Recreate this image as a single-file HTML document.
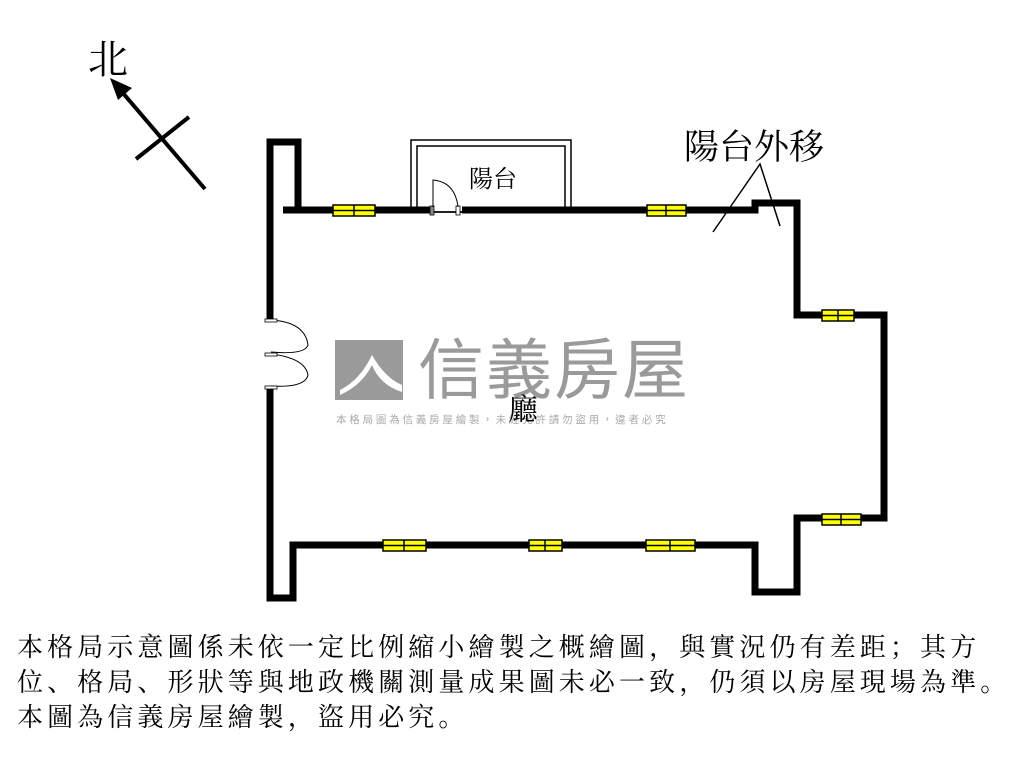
<!DOCTYPE html>
<html><head><meta charset="utf-8"><style>
body{margin:0;background:#fff;width:1024px;height:768px;overflow:hidden;position:relative;font-family:"Liberation Serif","Noto Serif CJK SC",serif}
.t{position:absolute;white-space:nowrap;color:#000}
</style></head><body>
<svg width="1024" height="768" style="position:absolute;left:0;top:0">
<rect x="335" y="340" width="68" height="60" fill="#9a9a9a"/>
<path d="M340 390 Q360 380 372 355 Q385 378 402 385 L402 392 Q380 385 372 365 Q362 385 340 395Z" fill="#fff"/>
<text x="418" y="393" font-size="66" fill="#9a9a9a" font-family="Noto Sans CJK TC,sans-serif" letter-spacing="2">信義房屋</text>
<text x="336" y="423" font-size="10.5" fill="#aaa" font-family="Noto Sans CJK TC,sans-serif" letter-spacing="2.8">本格局圖為信義房屋繪製，未經允許請勿盜用，違者必究</text>
<rect x="411" y="140" width="160" height="72" fill="none" stroke="#000" stroke-width="1.5"/>
<rect x="417" y="146" width="148" height="66" fill="none" stroke="#000" stroke-width="1.5"/>
<g fill="none" stroke="#000" stroke-width="7" stroke-linejoin="miter">
<polyline points="283,210 298,210 298,142 270,142 270,320"/>
<polyline points="270,386 270,598 293,598 293,545 755,545 755,592 797,592 797,518 884,518 884,315 797,315 797,203 755,203 755,210 462,210"/>
<line x1="283" y1="210" x2="432" y2="210"/>
</g>
<rect x="430" y="206" width="4" height="9" fill="#888" stroke="#000" stroke-width="0.8"/>
<rect x="456" y="206" width="4" height="9" fill="#fff" stroke="#000" stroke-width="0.8"/>
<path d="M433 207 L433 180 Q455 182 458 207" fill="none" stroke="#000" stroke-width="1"/>
<path d="M271 320 Q305 322 308 345 Q305 355 271 352 M271 354 Q305 358 308 375 Q305 388 271 386" fill="none" stroke="#000" stroke-width="1"/>
<rect x="265" y="319" width="12" height="3" fill="#fff" stroke="#000" stroke-width="0.8"/>
<rect x="265" y="353" width="12" height="3" fill="#fff" stroke="#000" stroke-width="0.8"/>
<rect x="265" y="386" width="12" height="3" fill="#fff" stroke="#000" stroke-width="0.8"/>
<g fill="#ffff00" stroke="#000" stroke-width="1.5">
<rect x="333" y="205" width="42" height="11"/><line x1="354" y1="205" x2="354" y2="216"/><line x1="333" y1="210.5" x2="375" y2="210.5"/>
<rect x="647" y="205" width="39" height="11"/><line x1="666" y1="205" x2="666" y2="216"/><line x1="647" y1="210.5" x2="686" y2="210.5"/>
<rect x="822" y="310" width="32" height="11"/><line x1="838" y1="310" x2="838" y2="321"/><line x1="822" y1="315.5" x2="854" y2="315.5"/>
<rect x="822" y="514" width="39" height="11"/><line x1="841" y1="514" x2="841" y2="525"/><line x1="822" y1="519.5" x2="861" y2="519.5"/>
<rect x="383" y="540" width="43" height="11"/><line x1="404" y1="540" x2="404" y2="551"/><line x1="383" y1="545.5" x2="426" y2="545.5"/>
<rect x="529" y="540" width="33" height="11"/><line x1="545" y1="540" x2="545" y2="551"/><line x1="529" y1="545.5" x2="562" y2="545.5"/>
<rect x="646" y="540" width="49" height="11"/><line x1="670" y1="540" x2="670" y2="551"/><line x1="646" y1="545.5" x2="695" y2="545.5"/>
</g>
<polyline points="713,232 760,164 780,226" fill="none" stroke="#000" stroke-width="1.5"/>
<line x1="205" y1="189" x2="122" y2="92" stroke="#000" stroke-width="4"/>
<polygon points="110,78 132,88 118,100" fill="#000"/>
<line x1="136" y1="159" x2="189" y2="117" stroke="#000" stroke-width="4"/>
</svg>
<div class="t" style="left:88px;top:28px;font-size:40px">北</div>
<div class="t" style="left:469px;top:159px;font-size:24px">陽台</div>
<div class="t" style="left:684px;top:120px;font-size:35px">陽台外移</div>
<div class="t" style="left:508px;top:385px;font-size:30px">廳</div>
<div class="t" style="left:17px;top:630px;font-size:26px;letter-spacing:4.1px;line-height:35px">本格局示意圖係未依一定比例縮小繪製之概繪圖，與實況仍有差距；其方<br>位、格局、形狀等與地政機關測量成果圖未必一致，仍須以房屋現場為準。<br>本圖為信義房屋繪製，盜用必究。</div>
</body></html>
